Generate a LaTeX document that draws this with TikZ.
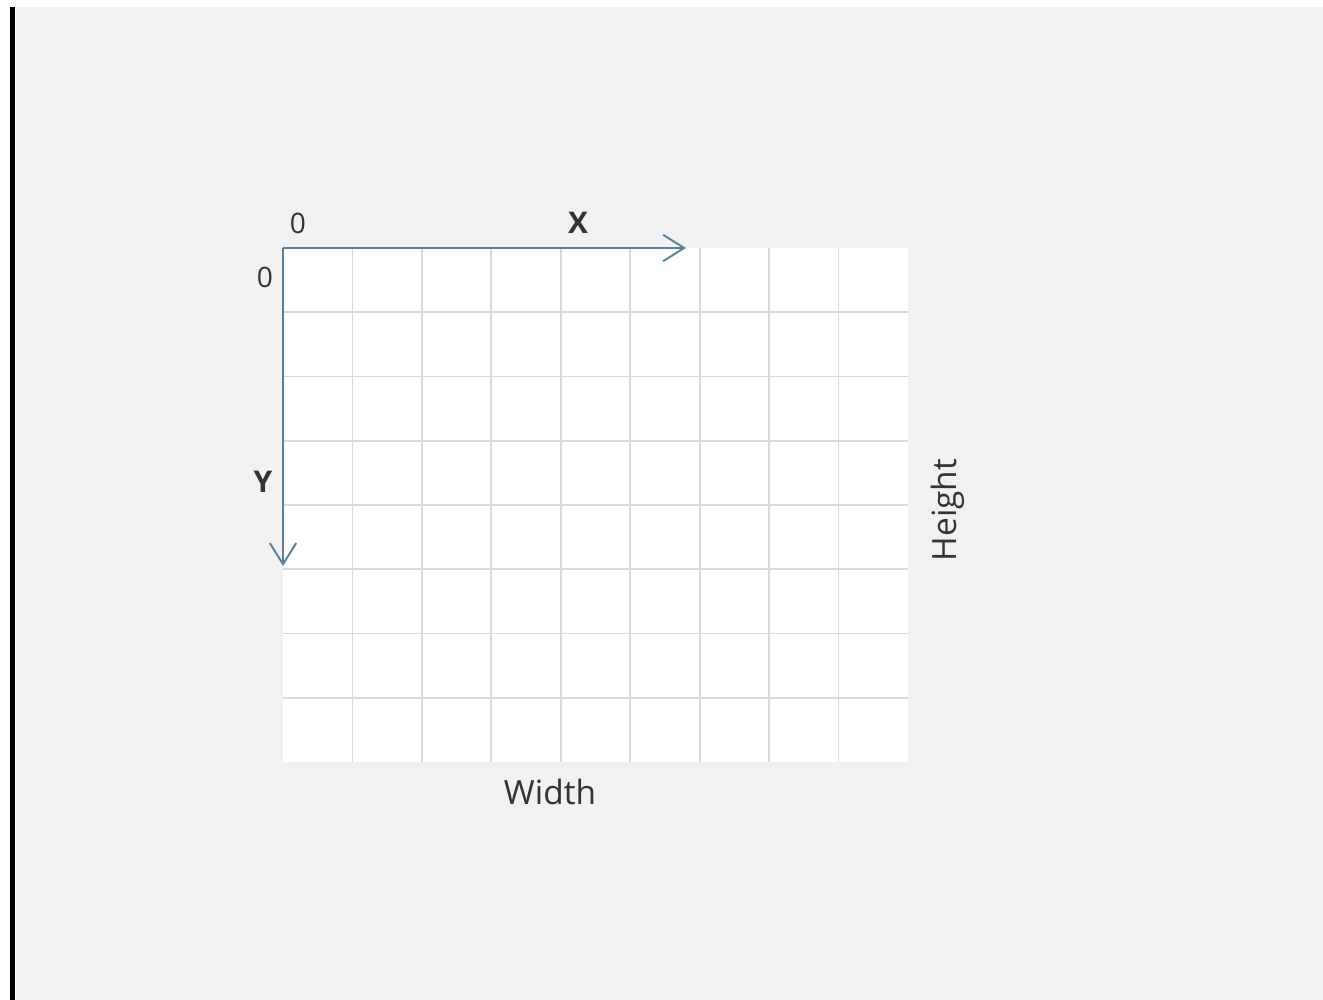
\documentclass[tikz,border=0pt]{standalone}
\usepackage{fontspec}
\setmainfont{Open Sans}
\usetikzlibrary{arrows.meta}

\definecolor{paper}{HTML}{F1F1F1}
\definecolor{cellline}{HTML}{D9D9D9}
\definecolor{axisblue}{HTML}{5A7F9B}
\definecolor{labelgray}{HTML}{333333}

\begin{document}
\begin{tikzpicture}[
x=0.02cm, y=-0.02cm,
axis arrow/.style={
axisblue, line width=1.1pt,
-{Straight Barb[length=12pt, width=15pt, line width=1.1pt]}
},
grid line/.style={cellline, line width=1pt},
tick label/.style={font=\fontsize{16}{18}\selectfont, text=labelgray, inner sep=0pt},
axis label/.style={font=\fontsize{17}{19}\selectfont\bfseries, text=labelgray, inner sep=0pt},
size label/.style={font=\fontsize{19}{22}\selectfont, text=labelgray, inner sep=0pt}
]

\useasboundingbox (0,0) rectangle (1323,1000);
\fill[white] (0,0) rectangle (1323,1000);
\fill[paper] (16,7) rectangle (1323,1000);
\fill[black] (10,7) rectangle (15,1000);

\coordinate (O) at (283,248);
\coordinate (corner) at (908,762);
\coordinate (xend) at (686,248);
\coordinate (yend) at (283,566);

% cells
\fill[white] (O) rectangle (corner);
\foreach \i in {1,...,8}
  \draw[grid line] ({283+\i*69.44},248) -- ({283+\i*69.44},762);
\foreach \j in {1,...,7}
  \draw[grid line] (283,{248+\j*64.25}) -- (908,{248+\j*64.25});

% axes
\draw[axis arrow] (O) -- (xend);
\draw[axis arrow] (O) -- (yend);

\node[tick label] (xzero) at (298,223) {0};
\node[tick label] (yzero) at (265,277) {0};
\node[axis label] (xlab) at (578,223) {X};
\node[axis label] (ylab) at (263,482) {Y};

\node[size label] (wlab) at (550,792) {Width};
\node[size label, rotate=90] (hlab) at (948,510) {Height};
\end{tikzpicture}
\end{document}
